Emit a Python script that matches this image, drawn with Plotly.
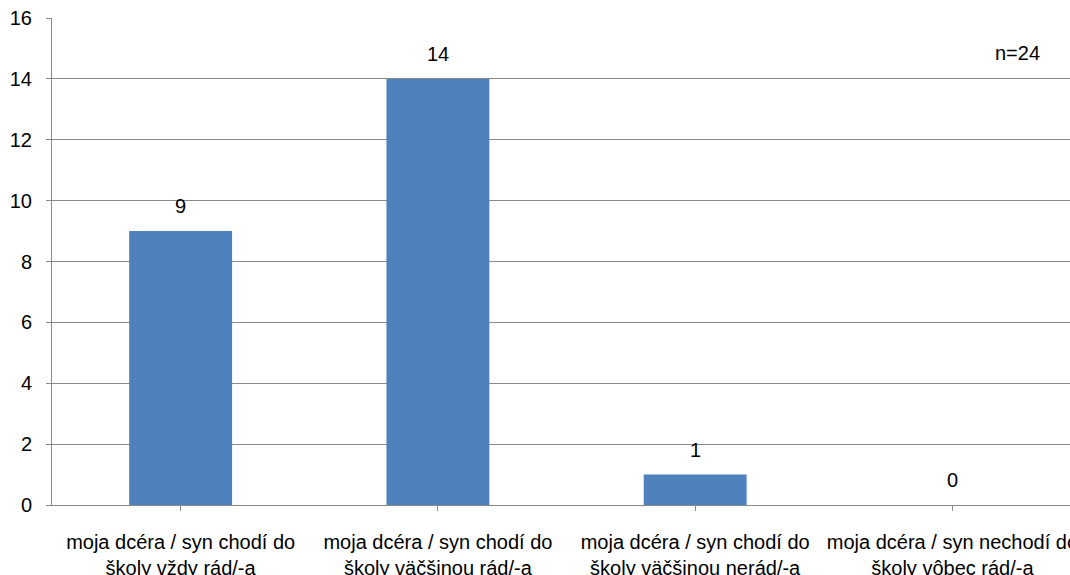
import plotly.graph_objects as go

categories = [
    "moja dcéra / syn chodí do<br>školy vždy rád/-a",
    "moja dcéra / syn chodí do<br>školy väčšinou rád/-a",
    "moja dcéra / syn chodí do<br>školy väčšinou nerád/-a",
    "moja dcéra / syn nechodí do<br>školy vôbec rád/-a",
]
values = [9, 14, 1, 0]
value_labels = ["9", "14", "1", "0"]
y_ticks = [0, 2, 4, 6, 8, 10, 12, 14, 16]
note = "n=24"

FONT = "Liberation Sans"
GRID = "#898989"
W, H = 1070, 575
ML, MR, MT, MB = 52, 0, 18, 70

fig = go.Figure()
fig.add_trace(go.Bar(
    x=list(range(len(categories))),
    y=values,
    marker=dict(color="#4F81BD", line=dict(width=0)),
    width=0.4,
    hoverinfo="skip",
))

for i, (v, t) in enumerate(zip(values, value_labels)):
    fig.add_annotation(x=i, y=v, text=t, showarrow=False, xref="x", yref="y",
                       yanchor="middle", yshift=25,
                       font=dict(family=FONT, size=20, color="#000000"))

fig.add_annotation(x=(1017 - ML) / (W - ML - MR), y=(H - MB - 53) / (H - MB - MT),
                   xref="paper", yref="paper", text=note, showarrow=False,
                   xanchor="center", yanchor="middle",
                   font=dict(family=FONT, size=20, color="#000000"))

fig.update_layout(
    width=W, height=H,
    margin=dict(l=ML, r=MR, t=MT, b=MB, autoexpand=False),
    paper_bgcolor="white", plot_bgcolor="white",
    showlegend=False,
    font=dict(family=FONT, size=20, color="#000000"),
    xaxis=dict(
        range=[-0.5, 3.457],
        tickmode="array",
        tickvals=list(range(len(categories))),
        ticktext=categories,
        tickson="boundaries",
        ticks="outside", ticklen=5, tickcolor=GRID,
        showline=True, linecolor=GRID, linewidth=1,
        showgrid=False, zeroline=False,
        ticklabelstandoff=14,
        ticklabeloverflow="allow",
        tickfont=dict(family=FONT, size=20),
        automargin=False,
        fixedrange=True,
    ),
    yaxis=dict(
        range=[0, 16],
        tickvals=y_ticks,
        ticks="outside", ticklen=5, tickcolor=GRID,
        showline=True, linecolor=GRID, linewidth=1,
        showgrid=True, gridcolor=GRID, gridwidth=1,
        zeroline=False,
        tickfont=dict(family=FONT, size=20),
        ticklabelstandoff=10,
        automargin=False,
        fixedrange=True,
    ),
)

fig.write_html(
    "out.html",
    config={"displayModeBar": False},
    post_script="document.body.style.margin='0';document.body.style.overflow='hidden';",
)
